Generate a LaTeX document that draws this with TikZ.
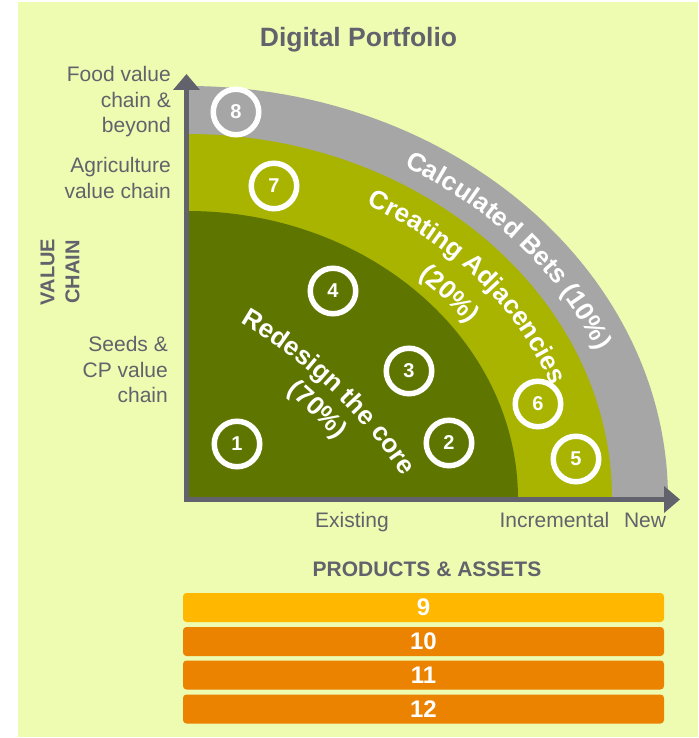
\documentclass[tikz,border=0pt]{standalone}
\usepackage{fontspec}
\setmainfont{Liberation Sans}
\usetikzlibrary{arrows.meta,decorations.text}

\definecolor{panel}{RGB}{237,252,176}
\definecolor{core}{RGB}{94,118,0}
\definecolor{adjac}{RGB}{169,180,0}
\definecolor{bets}{RGB}{166,166,166}
\definecolor{axisgray}{RGB}{98,98,108}
\definecolor{barA}{RGB}{255,183,0}
\definecolor{barB}{RGB}{235,130,0}

\def\fs#1#2{\fontsize{#1}{#2}\selectfont}
\def\bandfont{\bfseries\fs{26}{26}}
\def\tip{Triangle[length=16pt,width=26pt]}

\begin{document}
\begin{tikzpicture}[x=1pt, y=1pt, every node/.style={inner sep=0,text=axisgray},
	num/.style={circle,draw=white,line width=5.5pt,minimum size=45.5pt,text=white,font=\bfseries\fs{20}{20}},
	bar/.style={rectangle,rounded corners=3.5pt,minimum width=481pt,minimum height=29pt,text=white,font=\bfseries\fs{24}{24}},
	lbl/.style={anchor=east,align=right,font=\fs{21}{25.5}},
	arctext/.style={decorate,decoration={text along path,text align=center,text color=white,text={#1}}}]

		\useasboundingbox (-187,-239) rectangle (511,499);
		\fill[panel] (-169,-238) rectangle (511,497);

		\fill[bets] (0,0) -- (481,0) arc[start angle=0,end angle=90,x radius=481,y radius=413] -- cycle;
		\fill[adjac] (0,0) -- (425,0) arc[start angle=0,end angle=90,x radius=425,y radius=365] -- cycle;
		\fill[core] (0,0) -- (331,0) arc[start angle=0,end angle=90,x radius=331,y radius=288] -- cycle;

		\coordinate (O) at (-0.5,-0.5);
		\coordinate (Y) at (-0.5,425);
		\coordinate (X) at (493,-0.5);
		\draw[axisgray, line width=5pt, {\tip}-{\tip}] (Y) -- (O) -- (X);

		\coordinate (R) at (-191,-244);
		\path[arctext={|\bandfont|Calculated Bets (10{\%})}] (71.2:445 and 381) arc[start angle=71.2,end angle=11.2,x radius=445,y radius=381];
		\path[arctext={|\bandfont|Creating Adjacencies}] (70.6:387 and 332) arc[start angle=70.6,end angle=10.6,x radius=387,y radius=332];
		\path[arctext={|\bandfont|(20{\%})}] (56.8:347 and 298) arc[start angle=56.8,end angle=26.8,x radius=347,y radius=298];
		\path[arctext={|\bandfont|Redesign the core}] (R) ++(66.5:486) arc[start angle=66.5,end angle=26.5,radius=486];
		\path[arctext={|\bandfont|(70{\%})}] (R) ++(61:456) arc[start angle=61,end angle=31,radius=456];

		\node (C1) at (50,55) [num] {1};
		\node (C2) at (262,56) [num] {2};
		\node (C3) at (222,128) [num] {3};
		\node (C4) at (146,208) [num] {4};
		\node (C5) at (389,40) [num] {5};
		\node (C6) at (351,95) [num] {6};
		\node (C7) at (87,313) [num] {7};
		\node (C8) at (49,387) [num] {8};

		\node (T) at (171.5,452) [anchor=base,font=\bfseries\fs{26.5}{26.5}] {Digital Portfolio};

		\node (L1) at (-16,397) [lbl] {Food value\\chain \&\\beyond};
		\node (L2) at (-16,321) [lbl] {Agriculture\\value chain};
		\node (L3) at (-19,129.5) [lbl] {Seeds \&\\CP value\\chain};
		\node (V) at (-127,227) [rotate=90,align=center,font=\bfseries\fs{20}{25}] {VALUE\\CHAIN};

		\node (E1) at (165,-28.5) [anchor=base,font=\fs{21}{21}] {Existing};
		\node (E2) at (367.5,-28.5) [anchor=base,font=\fs{21}{21}] {Incremental};
		\node (E3) at (458,-28.5) [anchor=base,font=\fs{21}{21}] {New};

		\node (P) at (240,-77.7) [anchor=base,font=\bfseries\fs{21}{21}] {PRODUCTS \& ASSETS};
		\node (B9) at (236.5,-108.5) [bar,fill=barA] {9};
		\node (B10) at (236.5,-142.5) [bar,fill=barB] {10};
		\node (B11) at (236.5,-176) [bar,fill=barB] {11};
		\node (B12) at (236.5,-210) [bar,fill=barB] {12};

	\end{tikzpicture}
\end{document}
